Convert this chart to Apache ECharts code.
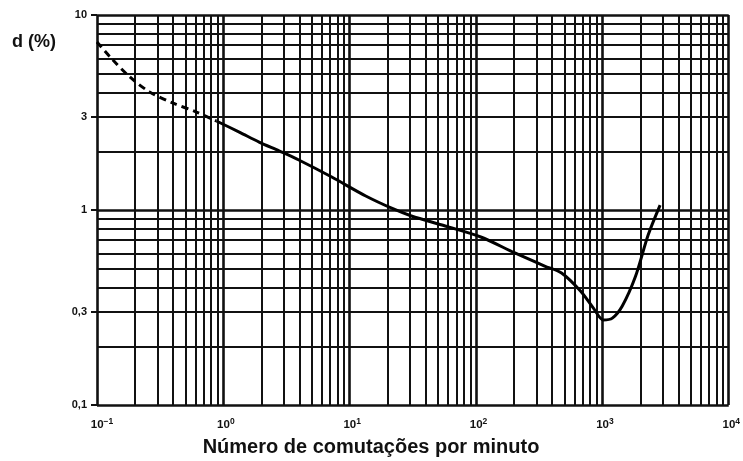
<!DOCTYPE html>
<html>
<head>
<meta charset="utf-8">
<script src="https://cdn.jsdelivr.net/npm/echarts@6/dist/echarts.min.js"></script>
<style>
html,body{margin:0;padding:0;background:#fff;}
#chart{width:743px;height:461px;}
</style>
</head>
<body>
<div id="chart"></div>
<script>
// Dashed (extrapolated) part of the curve: [switching rate per minute, d (%)]
var dashedX = [0.1, 0.127, 0.182, 0.261, 0.396, 0.612, 0.881];
var dashedY = [7.27, 6.09, 4.81, 4.03, 3.54, 3.18, 2.86];
// Solid part of the curve
var solidX = [0.881, 1.337, 1.92, 2.76, 3.96, 7.21, 13.4, 22.2, 30.8, 57, 109, 203, 349, 475, 671, 849, 1018, 1199, 1437, 1820, 2302, 2863];
var solidY = [2.86, 2.51, 2.23, 2.01, 1.805, 1.476, 1.18, 1.012, 0.932, 0.828, 0.727, 0.602, 0.516, 0.475, 0.384, 0.314, 0.273, 0.279, 0.322, 0.453, 0.744, 1.06];

// Grid lines (log paper)
var xGrid = [];
[0.1, 1, 10, 100, 1000].forEach(function (d) {
  for (var k = 1; k <= 9; k++) xGrid.push(+(d * k).toPrecision(3));
});
xGrid.push(10000);
var yGrid = [];
[0.1, 1].forEach(function (d) {
  for (var k = 1; k <= 9; k++) yGrid.push(+(d * k).toPrecision(3));
});
yGrid.push(10);

var xTickLabels = [0.1, 1, 10, 100, 1000, 10000];
var yTickValues = [0.1, 0.3, 1, 3, 10];
var yTickLabels = ['0,1', '0,3', '1', '3', '10'];

function zip(a, b) { return a.map(function (v, i) { return [v, b[i]]; }); }

var gridLines = [];
xGrid.forEach(function (v) {
  var major = Math.abs(Math.log10(v) - Math.round(Math.log10(v))) < 1e-9;
  gridLines.push([{ coord: [v, 0.1], lineStyle: { width: major ? 2.6 : 2 } }, { coord: [v, 10] }]);
});
yGrid.forEach(function (v) {
  var major = Math.abs(Math.log10(v) - Math.round(Math.log10(v))) < 1e-9;
  gridLines.push([{ coord: [0.1, v], lineStyle: { width: major ? 2.6 : 2 } }, { coord: [10000, v] }]);
});

var chart = echarts.init(document.getElementById('chart'), null, { renderer: 'canvas' });
var font = 'Liberation Sans, Arial, Helvetica, sans-serif';
chart.setOption({
  animation: false,
  backgroundColor: '#fff',
  textStyle: { fontFamily: font, color: '#000' },
  grid: { left: 97, right: 11, top: 15, bottom: 56 },
  xAxis: {
    type: 'log', logBase: 10, min: 0.1, max: 10000,
    axisLine: { show: false },
    axisTick: { show: false },
    splitLine: { show: false },
    minorTick: { show: false },
    axisLabel: {
      margin: 12,
      customValues: xTickLabels,
      formatter: function (v) {
        var e = Math.round(Math.log10(v));
        return (e < 0 ? '{bn|10}' : '{b|10}') + '{s|' + (e < 0 ? '\u2212' + (-e) : e) + '}';
      },
      rich: {
        b: { fontFamily: font, fontSize: 11.5, fontWeight: 'bold', color: '#111', padding: [0, 0, 0, 5] },
        bn: { fontFamily: font, fontSize: 11.5, fontWeight: 'bold', color: '#111', padding: [0, 0, 0, 10] },
        s: { fontFamily: font, fontSize: 8.5, fontWeight: 'bold', color: '#111', padding: [0, 0, 7, 0] }
      }
    }
  },
  yAxis: {
    type: 'log', logBase: 10, min: 0.1, max: 10,
    axisLine: { show: false },
    axisTick: { show: true, customValues: yTickValues, length: 6, lineStyle: { color: '#111', width: 2 } },
    splitLine: { show: false },
    axisLabel: {
      margin: 10,
      customValues: yTickValues,
      fontFamily: font, fontSize: 11, fontWeight: 'bold', color: '#111',
      formatter: function (v) {
        for (var i = 0; i < yTickValues.length; i++) {
          if (Math.abs(yTickValues[i] - v) / yTickValues[i] < 1e-6) return yTickLabels[i];
        }
        return '';
      }
    }
  },
  graphic: [{
    type: 'text', x: 12, y: 42,
    style: { text: 'd (%)', font: 'bold 18px ' + font, fill: '#111', textVerticalAlign: 'middle' }
  }, {
    type: 'text', x: 371, y: 447,
    style: { text: 'Número de comutações por minuto', font: 'bold 20px ' + font, fill: '#111', textAlign: 'center', textVerticalAlign: 'middle' }
  }],
  series: [
    {
      type: 'line', name: 'grid', data: [], silent: true,
      markLine: {
        silent: true, symbol: 'none', animation: false,
        label: { show: false },
        lineStyle: { color: '#111', type: 'solid', width: 2 },
        emphasis: { disabled: true },
        data: gridLines
      }
    },
    {
      type: 'line', name: 'dashed', data: zip(dashedX, dashedY),
      showSymbol: false, smooth: 0.3, silent: true,
      lineStyle: { color: '#000', width: 3, type: [7, 5] }, z: 5
    },
    {
      type: 'line', name: 'solid', data: zip(solidX, solidY),
      showSymbol: false, smooth: 0.3, silent: true,
      lineStyle: { color: '#000', width: 3 }, z: 5
    }
  ]
});
</script>
</body>
</html>
